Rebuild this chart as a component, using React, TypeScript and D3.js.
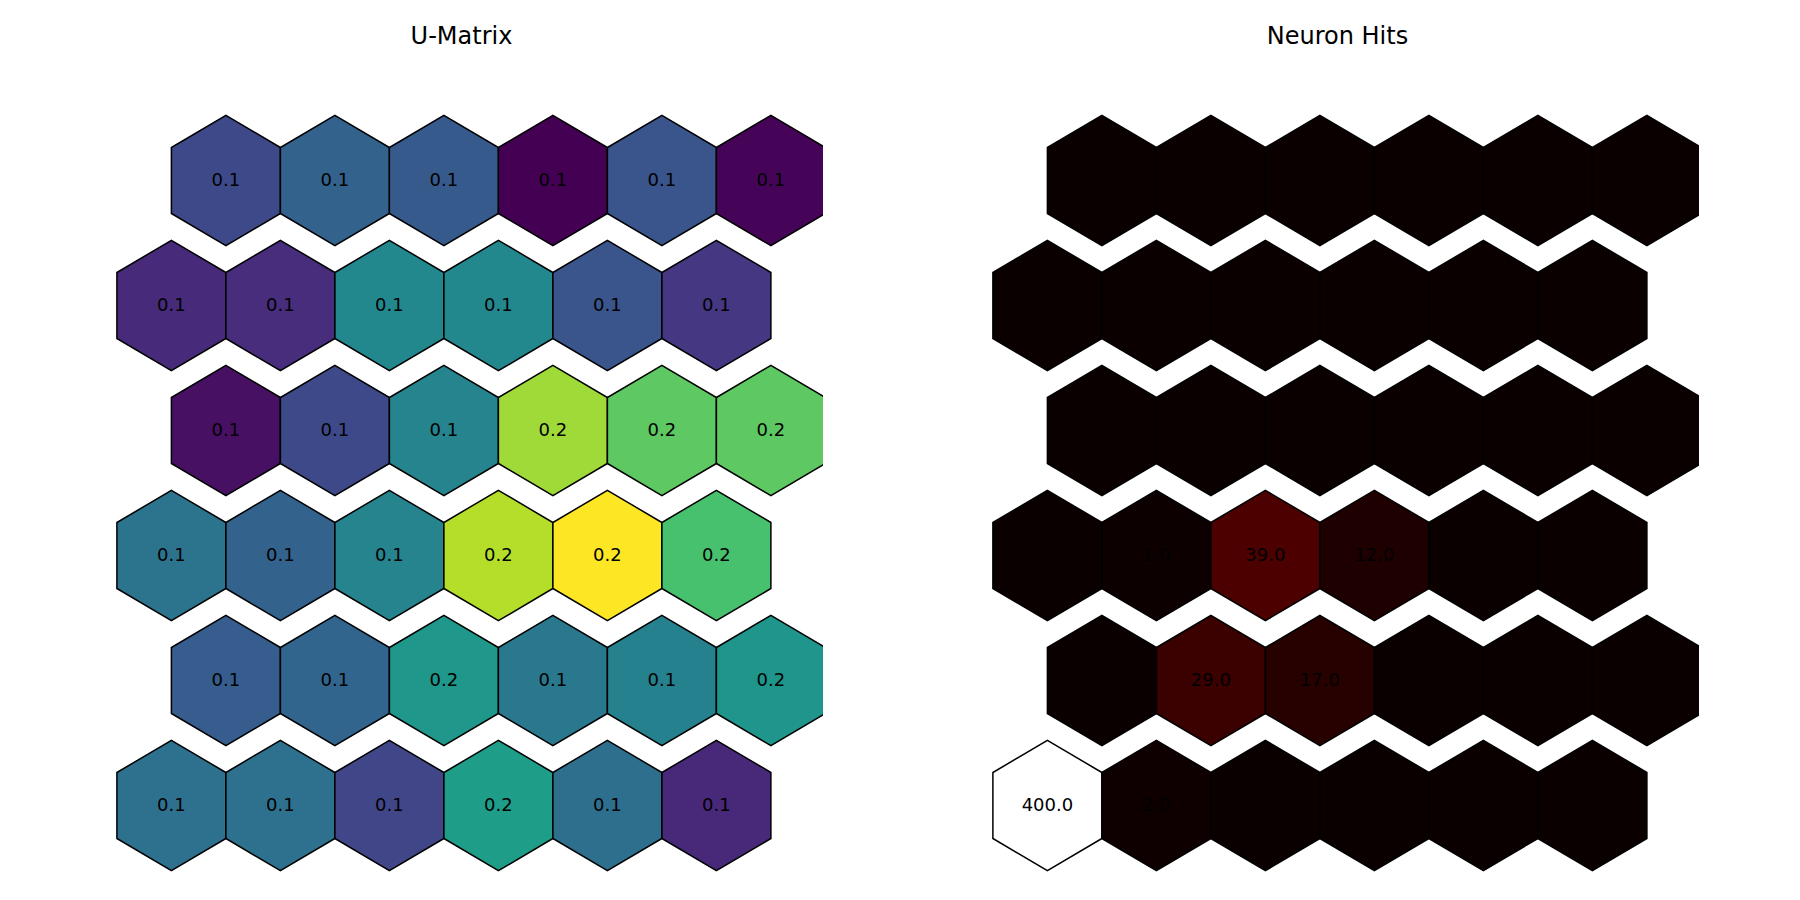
import React from 'react';
import * as d3 from 'd3';

// U-matrix distances, rows listed top to bottom as drawn
const uMatrix = [
  [0.098, 0.115, 0.109, 0.056, 0.105, 0.058],
  [0.079, 0.080, 0.145, 0.145, 0.105, 0.086],
  [0.064, 0.098, 0.142, 0.219, 0.199, 0.199],
  [0.128, 0.115, 0.142, 0.225, 0.246, 0.191],
  [0.111, 0.117, 0.157, 0.132, 0.139, 0.155],
  [0.126, 0.126, 0.096, 0.161, 0.125, 0.077],
];

// neuron hit counts, same layout
const hits = [
  [0, 0, 0, 0, 0, 0],
  [0, 0, 0, 0, 0, 0],
  [0, 0, 0, 0, 0, 0],
  [0, 1, 39, 12, 0, 0],
  [0, 29, 17, 0, 0, 0],
  [400, 2, 0, 0, 0, 0],
];

const panelTitles = ['U-Matrix', 'Neuron Hits'];

const W = 1800;
const H = 900;
const FONT = '"DejaVu Sans", Verdana, sans-serif';

// matplotlib "hot" colormap
const hot = d3
  .scaleLinear<string>()
  .domain([0, 0.365079, 0.746032, 1])
  .range(['#0b0000', '#ff0000', '#ffff00', '#ffffff'])
  .interpolate(d3.interpolateRgb)
  .clamp(true);

const Panel = ({ grid, left, title, color, showZero, id }) => {
  const axW = 723;
  const x = d3.scaleLinear().domain([-0.655, 5.978]).range([left, left + axW]);
  const nRows = grid.length;
  const y = d3.scaleLinear().domain([0, nRows - 1]).range([805.5, 180.5]);

  const hw = (x(1) - x(0)) / 2;
  const hh = 65.2;
  const sh = 33;
  const hexPath = (cx: number, cy: number) =>
    d3.line()([
      [cx, cy - hh],
      [cx + hw, cy - sh],
      [cx + hw, cy + sh],
      [cx, cy + hh],
      [cx - hw, cy + sh],
      [cx - hw, cy - sh],
    ]) + 'Z';

  const cells = [];
  grid.forEach((row, i) => {
    const j = nRows - 1 - i; // row index counted from bottom
    row.forEach((v, c) => {
      const u = c + (j % 2 === 1 ? 0.5 : 0);
      cells.push({ v, cx: x(u), cy: y(j), key: `${i}-${c}` });
    });
  });

  return (
    <g>
      <defs>
        <clipPath id={id}>
          <rect x={left} y={0} width={axW} height={H} />
        </clipPath>
      </defs>
      <text
        x={left + axW / 2}
        y={44}
        textAnchor="middle"
        fontFamily={FONT}
        fontSize={24}
        fill="#000"
      >
        {title}
      </text>
      <g clipPath={`url(#${id})`}>
        {cells.map((d) => (
          <path
            key={d.key}
            d={hexPath(d.cx, d.cy)}
            fill={color(d.v)}
            stroke="#000"
            strokeWidth={1.5}
            strokeLinejoin="miter"
          />
        ))}
        {cells
          .filter((d) => showZero || d.v !== 0)
          .map((d) => (
            <text
              key={'t' + d.key}
              x={d.cx}
              y={d.cy + 5.5}
              textAnchor="middle"
              fontFamily={FONT}
              fontSize={18}
              fill="#000"
            >
              {d.v.toFixed(1)}
            </text>
          ))}
      </g>
    </g>
  );
};

export default function App() {
  const flatU = uMatrix.flat();
  const uColor = d3
    .scaleSequential(d3.interpolateViridis)
    .domain(d3.extent(flatU) as [number, number]);
  const maxHits = d3.max(hits.flat()) as number;
  const hitColor = (v: number) => hot(v / maxHits);

  return (
    <svg
      width={W}
      height={H}
      style={{ position: 'absolute', left: 0, top: 0, display: 'block', background: '#fff' }}
    >
      <rect x={0} y={0} width={W} height={H} fill="#fff" />
      <Panel grid={uMatrix} left={100} title={panelTitles[0]} color={uColor} showZero={true} id="clipU" />
      <Panel grid={hits} left={976} title={panelTitles[1]} color={hitColor} showZero={false} id="clipH" />
    </svg>
  );
}
